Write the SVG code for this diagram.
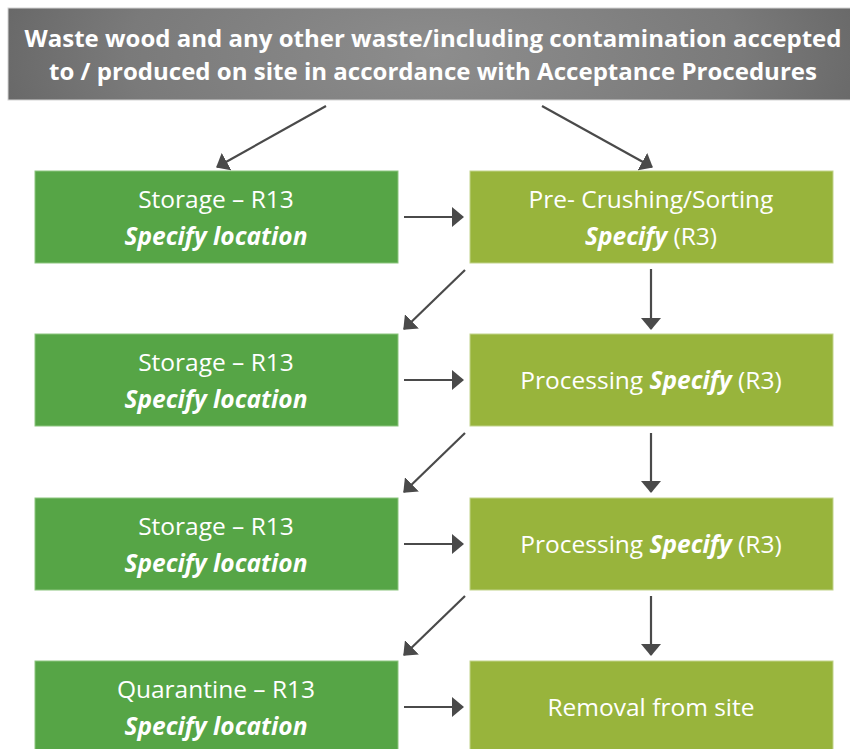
<svg xmlns="http://www.w3.org/2000/svg" width="850" height="749" viewBox="0 0 850 749">
<defs>
<radialGradient id="hdrGrad" cx="0.5" cy="0.5" r="0.6" gradientUnits="objectBoundingBox" gradientTransform="translate(0.5 0.5) scale(1 4) translate(-0.5 -0.5)">
<stop offset="0" stop-color="#8d8d8d"/>
<stop offset="0.6" stop-color="#7a7a7a"/>
<stop offset="1" stop-color="#5f5f5f"/>
</radialGradient>
<marker id="ah" markerUnits="userSpaceOnUse" markerWidth="12" markerHeight="20" refX="11" refY="10" orient="auto" viewBox="0 0 12 20">
<path d="M0,0 L12,10 L0,20 Z" fill="#4a4a4a"/>
</marker>
<style>
.hdr{font-family:"Open Sans","Liberation Sans",sans-serif;font-weight:bold;font-size:23px;fill:#ffffff;text-anchor:middle}
.t{font-family:"Open Sans","Liberation Sans",sans-serif;font-size:24.5px;fill:#ffffff;text-anchor:middle}
.b{font-weight:bold;font-style:italic}
.dg{fill:#56a546;stroke:#8cc57f;stroke-width:1}
.lg{fill:#98b43c;stroke:#c1d38a;stroke-width:1}
.c{stroke:#4a4a4a;stroke-width:2.2;fill:none;marker-end:url(#ah)}
</style>
</defs>
<rect width="850" height="749" fill="#ffffff"/>

<g id="header">
<rect x="8" y="8" width="852" height="92" fill="url(#hdrGrad)" stroke="#d4d4d4" stroke-width="1"/>
<text class="hdr" x="433" y="47" textLength="817" lengthAdjust="spacingAndGlyphs">Waste wood and any other waste/including contamination accepted</text>
<text class="hdr" x="433" y="80" textLength="768" lengthAdjust="spacingAndGlyphs">to / produced on site in accordance with Acceptance Procedures</text>
</g>

<g id="storage1">
<rect class="dg" x="35" y="171" width="363" height="92"/>
<text class="t" x="216" y="208">Storage – R13</text>
<text class="t b" x="216" y="245">Specify location</text>
</g>
<g id="precrushing">
<rect class="lg" x="470" y="171" width="363" height="92"/>
<text class="t" x="651" y="208">Pre- Crushing/Sorting</text>
<text class="t" x="651" y="245"><tspan class="b">Specify</tspan> (R3)</text>
</g>

<g id="storage2">
<rect class="dg" x="35" y="334" width="363" height="92"/>
<text class="t" x="216" y="371">Storage – R13</text>
<text class="t b" x="216" y="408">Specify location</text>
</g>
<g id="processing1">
<rect class="lg" x="470" y="334" width="363" height="92"/>
<text class="t" x="651" y="389">Processing <tspan class="b">Specify</tspan> (R3)</text>
</g>

<g id="storage3">
<rect class="dg" x="35" y="498" width="363" height="92"/>
<text class="t" x="216" y="535">Storage – R13</text>
<text class="t b" x="216" y="572">Specify location</text>
</g>
<g id="processing2">
<rect class="lg" x="470" y="498" width="363" height="92"/>
<text class="t" x="651" y="553">Processing <tspan class="b">Specify</tspan> (R3)</text>
</g>

<g id="quarantine">
<rect class="dg" x="35" y="661" width="363" height="92"/>
<text class="t" x="216" y="698">Quarantine – R13</text>
<text class="t b" x="216" y="735">Specify location</text>
</g>
<g id="removal">
<rect class="lg" x="470" y="661" width="363" height="92"/>
<text class="t" x="651" y="716">Removal from site</text>
</g>

<g id="connectors">
<line class="c" x1="326" y1="106" x2="217" y2="167"/>
<line class="c" x1="542" y1="106" x2="652" y2="167"/>
<line class="c" x1="404" y1="217" x2="463" y2="217"/>
<line class="c" x1="404" y1="380" x2="463" y2="380"/>
<line class="c" x1="404" y1="544" x2="463" y2="544"/>
<line class="c" x1="404" y1="707" x2="463" y2="707"/>
<line class="c" x1="651" y1="269" x2="651" y2="329"/>
<line class="c" x1="651" y1="433" x2="651" y2="492"/>
<line class="c" x1="651" y1="596" x2="651" y2="655"/>
<line class="c" x1="465" y1="270" x2="404" y2="329"/>
<line class="c" x1="465" y1="433" x2="404" y2="492"/>
<line class="c" x1="465" y1="596" x2="404" y2="655"/>
</g>
</svg>
